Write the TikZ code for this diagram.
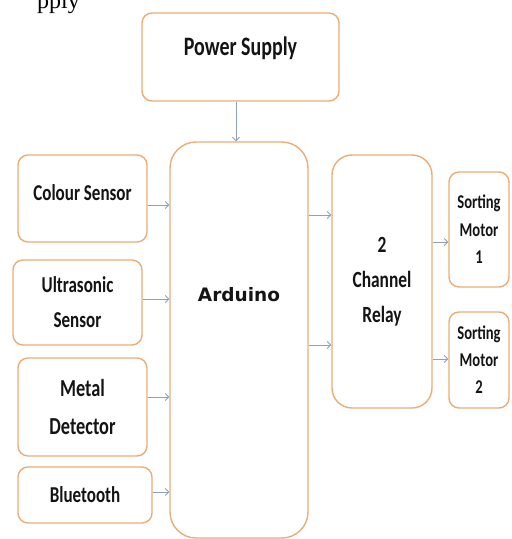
\documentclass[tikz,border=0pt]{standalone}
\usepackage{fontspec}
\setmainfont{Liberation Serif}
\newfontfamily\boxfont[FakeStretch=0.75]{Carlito}
\newfontfamily\ardfont{DejaVu Sans}
\usetikzlibrary{arrows.meta}
\definecolor{boxline}{RGB}{236,172,118}
\definecolor{arrline}{RGB}{140,162,188}
\definecolor{txt}{RGB}{20,20,20}
\tikzset{
  x=1pt, y=-1pt,
  blk/.style={draw=boxline, line width=1.4pt, rounded corners=#1, fill=white,
    inner sep=0pt, align=center, text=txt},
  blk/.default=10pt,
  arr/.style={draw=arrline, line width=0.9pt, -{Straight Barb[length=3.5pt,width=7pt]}},
  big/.style={font=\boxfont\bfseries\fontsize{22.7}{35}\selectfont},
}
\begin{document}
\begin{tikzpicture}
\useasboundingbox (0,0) rectangle (512,539);
\begin{scope}
\clip (0,0) rectangle (512,539);
\node[anchor=base west, inner sep=0pt, font=\fontsize{24}{28}\selectfont] (frag) at (37,8) {pply};
\end{scope}
% boxes (pixel coordinates: x right, y down)
\node[blk, minimum width=197pt, minimum height=88pt,
  label={[font=\boxfont\bfseries\fontsize{26.6}{30}\selectfont, text=txt, yshift=9pt]center:Power Supply}]
  (ps) at (240.5,57) {};
\node[blk=26pt, minimum width=138pt, minimum height=396pt,
  label={[font=\ardfont\bfseries\fontsize{18.5}{22}\selectfont, text=txt, yshift=45pt]center:Arduino}]
  (ard) at (239,340) {};
\node[blk, minimum width=129pt, minimum height=87pt,
  label={[big, text=txt, yshift=6pt]center:Colour Sensor}]
  (cs) at (82.5,198.5) {};
\node[blk, big, minimum width=129pt, minimum height=85pt] (us) at (77.5,302.5) {Ultrasonic\\Sensor};
\node[blk, minimum width=129pt, minimum height=98pt,
  font=\boxfont\bfseries\fontsize{24.4}{38}\selectfont] (md) at (82.5,407) {Metal\\Detector};
\node[blk, big, minimum width=134pt, minimum height=56pt] (bt) at (85,495) {Bluetooth};
\node[blk=20pt, minimum width=100pt, minimum height=253pt,
  font=\boxfont\bfseries\fontsize{23.2}{35}\selectfont] (rl) at (382,281.5) {2\\Channel\\Relay};
\node[blk, minimum width=60pt, minimum height=115pt,
  font=\boxfont\bfseries\fontsize{19.5}{27.5}\selectfont] (m1) at (479,229.5) {Sorting\\Motor\\1};
\node[blk, minimum width=60pt, minimum height=96pt,
  font=\boxfont\bfseries\fontsize{19.5}{27}\selectfont] (m2) at (479,360) {Sorting\\Motor\\2};
% connectors
\draw[arr] (ps.south -| 236,0) -- (ard.north -| 236,0);
\draw[arr] (cs.east |- 0,205) -- (ard.west |- 0,205);
\draw[arr] (us.east |- 0,299) -- (ard.west |- 0,299);
\draw[arr] (md.east |- 0,397) -- (ard.west |- 0,397);
\draw[arr] (bt.east |- 0,492) -- (ard.west |- 0,492);
\draw[arr] (ard.east |- 0,215) -- (rl.west |- 0,215);
\draw[arr] (ard.east |- 0,345) -- (rl.west |- 0,345);
\draw[arr] (rl.east |- 0,242) -- (m1.west |- 0,242);
\draw[arr] (rl.east |- 0,359) -- (m2.west |- 0,359);
\end{tikzpicture}
\end{document}
